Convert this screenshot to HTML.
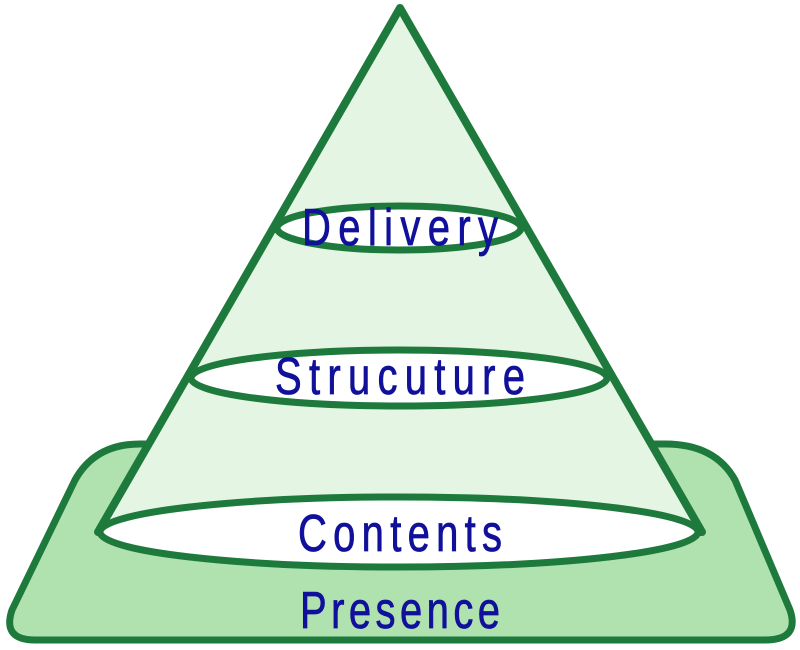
<!DOCTYPE html>
<html><head><meta charset="utf-8"><style>
html,body{margin:0;padding:0;background:#fff;width:800px;height:650px;overflow:hidden}
text{font-family:"Liberation Sans",sans-serif;fill:#10109a;font-size:40px;stroke:#10109a;stroke-width:0.6px}
</style></head><body>
<svg width="800" height="650" viewBox="0 0 800 650">
<path d="M140,444 L665,444 Q715,444 735,480 L790,610 Q800,640 765,640 L35,640 Q2,640 12,610 L75,480 Q95,444 140,444 Z" fill="#b0e2b0" stroke="#1e7a3c" stroke-width="7" stroke-linejoin="round"/>
<polygon points="400,8 98,532 702,532" fill="#e4f5e4" stroke="#1e7a3c" stroke-width="8" stroke-linejoin="round"/>
<ellipse cx="399" cy="228" rx="122" ry="22" fill="#fff" stroke="#1e7a3c" stroke-width="7"/>
<ellipse cx="399" cy="378" rx="208" ry="28" fill="#fff" stroke="#1e7a3c" stroke-width="7"/>
<ellipse cx="399" cy="532" rx="299" ry="35" fill="#fff" stroke="#1e7a3c" stroke-width="7"/>
<g transform="translate(400,245) scale(1,1.3)"><text x="0" y="0" text-anchor="middle" textLength="196" lengthAdjust="spacing">Delivery</text></g>
<g transform="translate(400,394) scale(1,1.3)"><text x="0" y="0" text-anchor="middle" textLength="250" lengthAdjust="spacing">Strucuture</text></g>
<g transform="translate(400,551) scale(1,1.3)"><text x="0" y="0" text-anchor="middle" textLength="204" lengthAdjust="spacing">Contents</text></g>
<g transform="translate(400,628) scale(1,1.3)"><text x="0" y="0" text-anchor="middle" textLength="200" lengthAdjust="spacing">Presence</text></g>
</svg>
</body></html>
